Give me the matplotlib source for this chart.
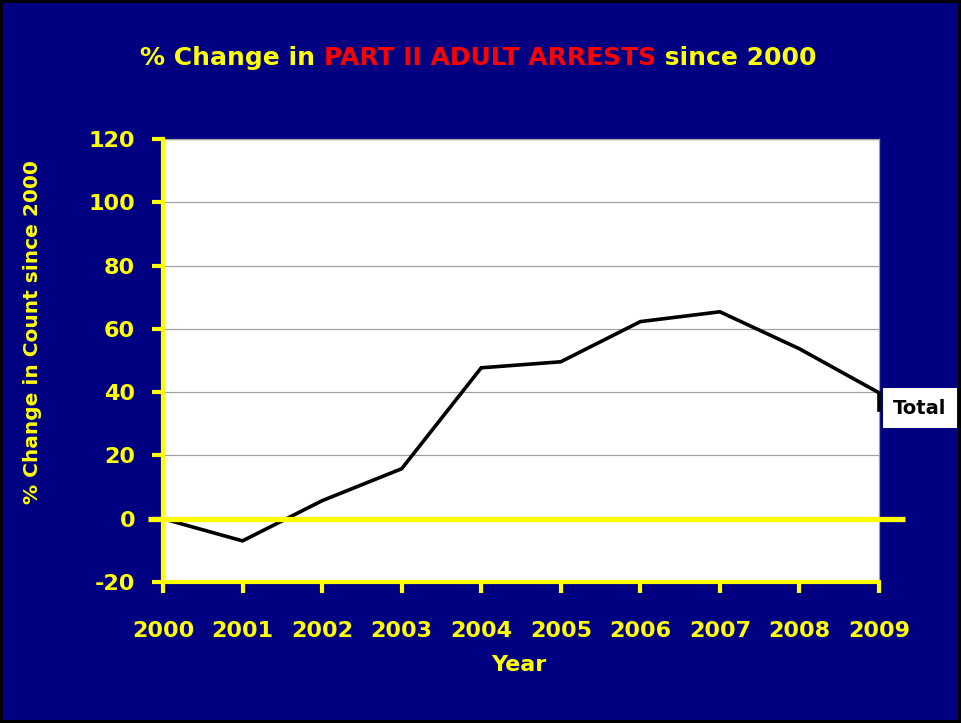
import matplotlib.pyplot as plt

# data
years = [2000, 2001, 2002, 2003, 2004, 2005, 2006, 2007, 2008, 2009]
total_change = [0, -7, 5.7, 15.8, 47.7, 49.6, 62.3, 65.4, 53.7, 39.8]
y_ticks = [-20, 0, 20, 40, 60, 80, 100, 120]

NAVY = '#000080'
YELLOW = '#FFFF00'

plt.rcParams['font.family'] = ['DejaVu Sans']
plt.rcParams['font.weight'] = 'bold'

fig = plt.figure(figsize=(9.61, 7.23), dpi=100)
fig.patch.set_facecolor(NAVY)
fig.patch.set_edgecolor('black')
fig.patch.set_linewidth(4)

ax = fig.add_axes([0.1696, 0.195, 0.9147 - 0.1696, 0.8077 - 0.195])
ax.set_facecolor('white')

# gridlines
for t in y_ticks[1:]:
    ax.axhline(t, color='#A0A0A0', lw=0.9, zorder=1)

# the data line
ax.plot(years, total_change, color='black', lw=2.6, zorder=3, solid_joinstyle='miter')
# small leader down to the label
ax.plot([years[-1], years[-1]], [total_change[-1], 34.5], color='black', lw=2.6,
        zorder=3, clip_on=False)

# thick yellow zero line running past the plot edges
ax.plot([1999.81, 2009.33], [0, 0], color=YELLOW, lw=3.8, zorder=4, clip_on=False,
        solid_capstyle='butt')

ax.set_xlim(2000, 2009)
ax.set_ylim(-20, 120)
ax.set_xticks(years)
ax.set_yticks(y_ticks)

for side in ['top', 'right']:
    ax.spines[side].set_color('#A0A0A0')
    ax.spines[side].set_linewidth(0.9)
for side in ['left', 'bottom']:
    ax.spines[side].set_color(YELLOW)
    ax.spines[side].set_linewidth(3)
    ax.spines[side].set_zorder(5)

ax.tick_params(axis='y', colors=YELLOW, labelsize=16, length=8, width=3,
               direction='out', pad=12)
ax.tick_params(axis='x', colors=YELLOW, labelsize=16, length=8, width=3,
               direction='out', pad=20)
ax.set_yticklabels([str(t) for t in y_ticks])
for lbl in ax.get_xticklabels() + ax.get_yticklabels():
    lbl.set_fontweight('bold')

fig.text(0.540, 1 - 665 / 723, 'Year', color=YELLOW, fontsize=16,
         fontweight='bold', ha='center', va='center')
fig.text(33 / 961, 1 - 332 / 723, '% Change in Count since 2000', color=YELLOW,
         fontsize=14.5, fontweight='bold', ha='center', va='center', rotation=90)

# series label box
fig.text(920 / 961, 1 - 408 / 723, 'Total', color='black', fontsize=14,
         fontweight='bold', ha='center', va='center',
         bbox=dict(boxstyle='square,pad=0.55', facecolor='white', edgecolor='none'))

# multi-colour title
title_parts = [('% Change in ', YELLOW), ('PART II ADULT ARRESTS', 'red'),
               (' since 2000', YELLOW)]
fig.canvas.draw()
renderer = fig.canvas.get_renderer()
texts = []
for s, c in title_parts:
    t = fig.text(0, 1 - 58 / 723, s, color=c, fontsize=18, fontweight='bold',
                 ha='left', va='center')
    texts.append(t)
widths = [t.get_window_extent(renderer=renderer).width / fig.bbox.width for t in texts]
x = 478 / 961 - sum(widths) / 2
for t, w in zip(texts, widths):
    t.set_x(x)
    x += w

fig.savefig('out.png', dpi=100, facecolor=fig.get_facecolor(),
            edgecolor=fig.get_edgecolor())
